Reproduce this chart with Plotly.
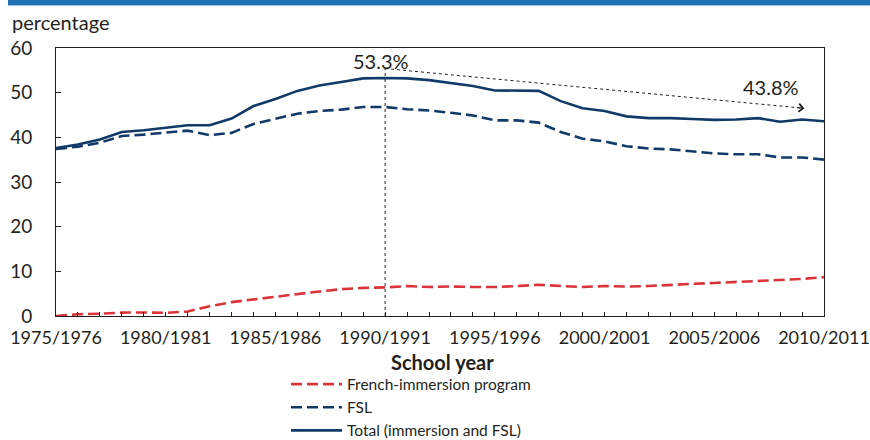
import plotly.graph_objects as go

years = [f"{y}/{y+1}" for y in range(1975, 2011)]
tick_labels = ["1975/1976", "1980/1981", "1985/1986", "1990/1991",
               "1995/1996", "2000/2001", "2005/2006", "2010/2011"]

immersion = [0.0, 0.4, 0.5, 0.75, 0.8, 0.7, 1.0, 2.2, 3.1, 3.7,
             4.4, 4.9, 5.5, 6.0, 6.3, 6.4, 6.7, 6.5, 6.6, 6.5,
             6.5, 6.7, 7.0, 6.7, 6.5, 6.7, 6.6, 6.7, 7.0, 7.2,
             7.4, 7.6, 7.9, 8.1, 8.3, 8.7]
fsl = [37.4, 37.9, 38.8, 40.3, 40.6, 41.0, 41.5, 40.5, 41.0, 43.0,
       44.1, 45.3, 45.9, 46.2, 46.8, 46.8, 46.3, 46.0, 45.5, 44.9,
       43.8, 43.8, 43.3, 41.2, 39.7, 39.1, 38.0, 37.5, 37.3, 36.9,
       36.4, 36.2, 36.2, 35.5, 35.5, 35.0]
total = [37.6, 38.4, 39.5, 41.2, 41.6, 42.1, 42.7, 42.7, 44.2, 47.0,
         48.6, 50.4, 51.6, 52.4, 53.2, 53.3, 53.2, 52.8, 52.1, 51.5,
         50.5, 50.4, 50.4, 48.1, 46.5, 45.9, 44.7, 44.3, 44.3, 44.1,
         43.9, 44.0, 44.3, 43.5, 44.0, 43.6]

peak_label = "53.3%"
end_label = "43.8%"

NAVY = "#123a68"
RED = "#d8343a"
INK = "#231f20"
FONT = "Lato, 'Open Sans', sans-serif"

idx = list(range(len(years)))

fig = go.Figure()
fig.add_trace(go.Scatter(x=idx, y=immersion, mode="lines", name="French-immersion program",
                         line=dict(color=RED, width=2.6, dash="11px,5px")))
fig.add_trace(go.Scatter(x=idx, y=fsl, mode="lines", name="FSL",
                         line=dict(color=NAVY, width=2.6, dash="11px,5px")))
fig.add_trace(go.Scatter(x=idx, y=total, mode="lines", name="Total (immersion and FSL)",
                         line=dict(color=NAVY, width=2.6)))

# vertical dotted marker at peak and dotted trend arrow
fig.add_shape(type="line", xref="x", yref="y", x0=15, x1=15, y0=0, y1=55.4,
              line=dict(color=INK, width=1, dash="dot"))
fig.add_shape(type="line", xref="x", yref="y", x0=15, x1=34.1, y0=55.4, y1=46.5,
              line=dict(color=INK, width=1, dash="dot"))
fig.add_annotation(x=34.1, y=46.5, ax=33.7, ay=46.69, xref="x", yref="y",
                   axref="x", ayref="y", text="", showarrow=True,
                   arrowhead=4, arrowsize=1.6, arrowwidth=1, arrowcolor=INK)

fig.add_annotation(x=14.8, y=57.2, xref="x", yref="y", text=peak_label, showarrow=False,
                   font=dict(family=FONT, size=20, color=INK), xanchor="center", yanchor="middle")
fig.add_annotation(x=32.6, y=51.2, xref="x", yref="y", text=end_label, showarrow=False,
                   font=dict(family=FONT, size=20, color=INK), xanchor="center", yanchor="middle")

# y axis caption
fig.add_annotation(x=(10 - 56) / 768, y=(316 - 22) / 268, xref="paper", yref="paper",
                   text="percentage", showarrow=False, xanchor="left", yanchor="middle",
                   font=dict(family=FONT, size=20, color=INK))
# x axis title
fig.add_annotation(x=(442 - 56) / 768, y=(316 - 362) / 268, xref="paper", yref="paper",
                   text="<b>School year</b>", showarrow=False, xanchor="center",
                   yanchor="middle", font=dict(family=FONT, size=20, color=INK))

# top banner
fig.add_shape(type="rect", xref="paper", yref="paper", x0=(8 - 56) / 768, x1=1.07,
              y0=(316 - 5) / 268, y1=(316 + 2) / 268, line=dict(width=0),
              fillcolor="#2171b5", layer="above")
fig.add_shape(type="rect", xref="paper", yref="paper", x0=(8 - 56) / 768, x1=1.07,
              y0=(316 - 6) / 268, y1=(316 - 5) / 268, line=dict(width=0),
              fillcolor="#9cc3e4", layer="above")

fig.update_layout(
    width=870, height=440,
    margin=dict(l=56, r=46, t=48, b=124, autoexpand=False),
    paper_bgcolor="white", plot_bgcolor="white",
    font=dict(family=FONT, size=18, color=INK),
    showlegend=True,
    legend=dict(x=(286 - 56) / 768, y=(316 - 367.5) / 268, xanchor="left", yanchor="top",
                orientation="v", font=dict(family=FONT, size=15.5, color=INK),
                itemwidth=51, bgcolor="rgba(0,0,0,0)", tracegroupgap=0),
)
fig.update_xaxes(range=[0, 35], tickmode="array", tickvals=[0, 5, 10, 15, 20, 25, 30, 35],
                 ticktext=tick_labels, ticks="inside", ticklen=4, tickcolor=INK,
                 minor=dict(dtick=1, ticks="inside", ticklen=4, tickcolor=INK),
                 showline=True, linecolor=INK, linewidth=1, mirror=True,
                 showgrid=False, zeroline=False, ticklabelstandoff=5, automargin=False,
                 ticklabeloverflow="allow",
                 tickfont=dict(family=FONT, size=18, color=INK))
fig.update_yaxes(range=[0, 60], tickvals=[0, 10, 20, 30, 40, 50, 60],
                 ticks="inside", ticklen=5, tickcolor=INK,
                 showline=True, linecolor=INK, linewidth=1, mirror=True,
                 showgrid=False, zeroline=False, ticklabelstandoff=19, automargin=False,
                 ticklabeloverflow="allow",
                 tickfont=dict(family=FONT, size=19, color=INK))

# remove the default 8px page margin so the 870x440 figure fills the window
fig.write_html("out.html", config={"displayModeBar": False},
               post_script="document.body.style.margin='0';document.body.style.overflow='hidden';")
